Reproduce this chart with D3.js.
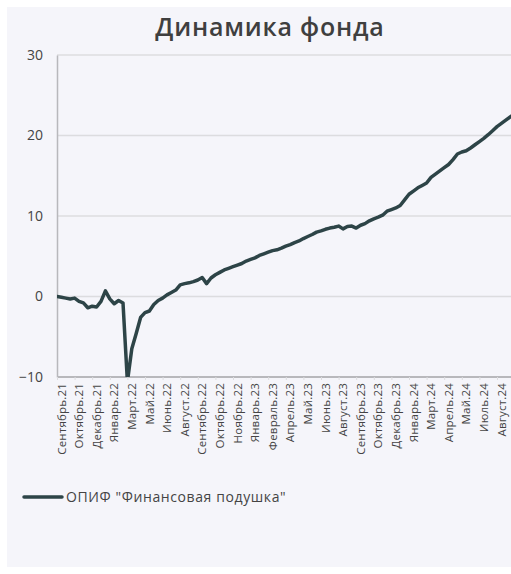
<!DOCTYPE html>
<html>
<head>
<meta charset="utf-8">
<script src="https://cdn.jsdelivr.net/npm/d3@7/dist/d3.min.js"></script>
<style>
    body { margin: 0; background: #ffffff; }
    svg { display: block; font-family: "Open Sans", "Noto Sans", sans-serif; }
</style>
</head>
<body>
<script>
// подписи оси X (каждая 4-я точка ряда)
var tickLabels = ["Сентябрь.21", "Октябрь.21", "Декабрь.21", "Январь.22", "Март.22", "Май.22",
    "Июнь.22", "Август.22", "Сентябрь.22", "Октябрь.22", "Ноябрь.22", "Январь.23", "Февраль.23",
    "Апрель.23", "Май.23", "Июнь.23", "Август.23", "Сентябрь.23", "Октябрь.23", "Декабрь.23",
    "Январь.24", "Март.24", "Апрель.24", "Май.24", "Июль.24", "Август.24"];
var pointsPerLabel = 4;

// доходность фонда, %
var fundValues = [0.0, -0.1, -0.2, -0.3, -0.2, -0.6, -0.8, -1.4, -1.2, -1.3,
    -0.6, 0.7, -0.3, -0.9, -0.5, -0.8, -10.6, -6.5, -4.6, -2.6,
    -2.0, -1.8, -1.0, -0.5, -0.2, 0.2, 0.5, 0.8, 1.45, 1.6,
    1.7, 1.85, 2.05, 2.35, 1.6, 2.3, 2.7, 3.0, 3.3, 3.5,
    3.7, 3.9, 4.1, 4.4, 4.6, 4.8, 5.1, 5.3, 5.5, 5.7,
    5.8, 6.0, 6.25, 6.45, 6.7, 6.9, 7.2, 7.45, 7.7, 8.0,
    8.15, 8.35, 8.5, 8.6, 8.75, 8.4, 8.7, 8.75, 8.5, 8.85,
    9.05, 9.4, 9.65, 9.85, 10.1, 10.6, 10.8, 11.0, 11.3, 12.0,
    12.7, 13.1, 13.5, 13.8, 14.1, 14.8, 15.2, 15.6, 16.0, 16.4,
    17.0, 17.7, 17.95, 18.1, 18.45, 18.85, 19.25, 19.65, 20.1, 20.6,
    21.1, 21.5, 21.9, 22.3, 22.7];
var yTicks = [-10, 0, 10, 20, 30];
var seriesName = "ОПИФ \"Финансовая подушка\"";

var w = 511;
var h = 574;
var plotLeft = 57;
var plotTop = 55;
var plotBottom = 377;
var step = 4.4;

var svg = d3.select("body")
    .append("svg")
    .attr("width", w)
    .attr("height", h);

svg.append("rect")
    .attr("x", 7)
    .attr("y", 7)
    .attr("width", w - 7)
    .attr("height", h - 14)
    .attr("fill", "#f5f5fa");

svg.append("text")
    .text("Динамика фонда")
    .attr("x", 270)
    .attr("y", 36)
    .attr("text-anchor", "middle")
    .attr("font-size", "25px")
    .attr("font-weight", 600)
    .attr("letter-spacing", "0.8px")
    .attr("fill", "#3f3f3f");

// шкалы
var xScale = d3.scaleLinear()
    .domain([0, fundValues.length - 1])
    .range([plotLeft, plotLeft + step * (fundValues.length - 1)]);
var yScale = d3.scaleLinear()
    .domain([-10, 30])
    .range([plotBottom, plotTop]);

// сетка
svg.append("g")
    .selectAll("line")
    .data(yTicks.filter(function (d) { return d > -10; }))
    .enter()
    .append("line")
    .attr("x1", plotLeft)
    .attr("x2", w)
    .attr("y1", function (d) { return yScale(d); })
    .attr("y2", function (d) { return yScale(d); })
    .attr("stroke", "#dcdcdf")
    .attr("stroke-width", 1.5);

// ось Y
var yAxis = d3.axisLeft(yScale)
    .tickValues(yTicks)
    .tickSize(0)
    .tickPadding(14);
var gy = svg.append("g")
    .attr("transform", "translate(" + plotLeft + ",0)")
    .call(yAxis);
gy.select(".domain").attr("stroke", "#b8b8bc").attr("stroke-width", 1.5);
gy.selectAll("text")
    .attr("font-size", "14px")
    .attr("fill", "#444")
    .attr("font-family", "\"Open Sans\", sans-serif");

// ось X
var tickIdx = tickLabels.map(function (d, i) { return i * pointsPerLabel; });
var xAxis = d3.axisBottom(xScale)
    .tickValues(tickIdx)
    .tickSize(3)
    .tickSizeOuter(0)
    .tickFormat(function (d, i) { return tickLabels[i]; });
var gx = svg.append("g")
    .attr("transform", "translate(0," + plotBottom + ")")
    .call(xAxis);
gx.select(".domain")
    .attr("d", "M" + plotLeft + ",0H" + w)
    .attr("stroke", "#b8b8bc")
    .attr("stroke-width", 2);
gx.selectAll(".tick line").attr("stroke", "#dcdcdf");
gx.selectAll("text")
    .attr("font-size", "11.5px")
    .attr("letter-spacing", "0.2px")
    .attr("fill", "#444")
    .attr("font-family", "\"Open Sans\", sans-serif")
    .attr("text-anchor", "end")
    .attr("x", -6)
    .attr("y", 0)
    .attr("dy", "0.35em")
    .attr("dx", 0)
    .attr("transform", "translate(4,0) rotate(-90)");

// линия фонда
svg.append("clipPath")
    .attr("id", "plot")
    .append("rect")
    .attr("x", plotLeft)
    .attr("y", plotTop - 10)
    .attr("width", w - plotLeft)
    .attr("height", plotBottom - plotTop + 10);

var line = d3.line()
    .x(function (d, i) { return xScale(i); })
    .y(function (d) { return yScale(d); });

svg.append("path")
    .datum(fundValues)
    .attr("clip-path", "url(#plot)")
    .attr("d", line)
    .attr("fill", "none")
    .attr("stroke", "#2d4447")
    .attr("stroke-width", 3.5)
    .attr("stroke-linejoin", "round")
    .attr("stroke-linecap", "round");

// легенда
svg.append("line")
    .attr("x1", 24)
    .attr("x2", 62)
    .attr("y1", 497)
    .attr("y2", 497)
    .attr("stroke", "#2d4447")
    .attr("stroke-width", 3.5)
    .attr("stroke-linecap", "round");
svg.append("text")
    .text(seriesName)
    .attr("x", 66)
    .attr("y", 497)
    .attr("dy", "0.35em")
    .attr("font-size", "14px")
    .attr("letter-spacing", "0.6px")
    .attr("fill", "#444");
</script>
</body>
</html>
